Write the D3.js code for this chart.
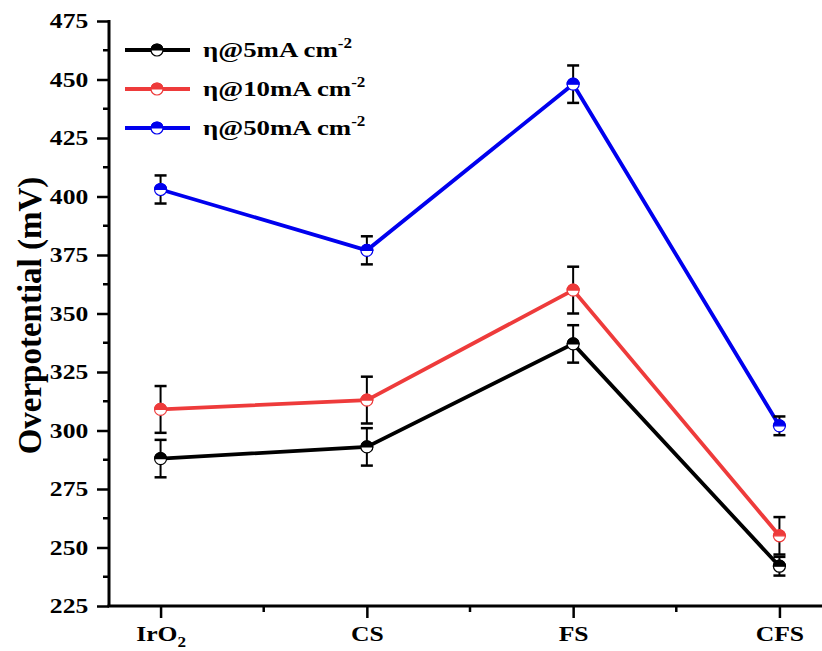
<!doctype html>
<html>
  <head>
    <meta charset="utf-8" />
    <title>Overpotential</title>
    <style>
      body { margin: 0; background: #fff; }
      svg { display: block; }
      text {
        font-family: "Liberation Serif", "DejaVu Serif", "Times New Roman", serif;
        font-weight: bold;
        fill: #000;
      }
    </style>
  </head>
  <body>
    <svg id="chart"></svg>
    <script src="https://d3js.org/d3.v7.min.js"></script>
    <script>
      // data
      const categories = ["IrO2", "CS", "FS", "CFS"];
      const eta5 = [288, 293, 337, 242];
      const eta5Err = [8, 8, 8, 4];
      const eta10 = [309, 313, 360, 255];
      const eta10Err = [10, 10, 10, 8];
      const eta50 = [403, 377, 448, 302];
      const eta50Err = [6, 6, 8, 4];
      const yTicks = [225, 250, 275, 300, 325, 350, 375, 400, 425, 450, 475];

      const series = [
        { name: "5", values: eta5, err: eta5Err, color: "#000000" },
        { name: "10", values: eta10, err: eta10Err, color: "#ee3b3b" },
        { name: "50", values: eta50, err: eta50Err, color: "#0000ee" },
      ];

      const width = 822;
      const height = 651;
      const mLeft = 109, mTop = 21, mBottom = 606;
      const sx = 1.22; // the original figure's text is a bit wide

      const svg = d3.select("#chart").attr("width", width).attr("height", height);

      const x = d3.scalePoint().domain(categories).range([mLeft, 831]).padding(0.25);
      const y = d3.scaleLinear().domain([225, 475]).range([mBottom, mTop]);

      // y axis
      const yAxis = svg.append("g").attr("transform", `translate(${mLeft},0)`);
      yAxis.call(d3.axisLeft(y).tickValues(yTicks).tickSize(12).tickPadding(5))
        .call((g) => g.select(".domain").remove());
      yAxis.selectAll(".tick line").attr("stroke-width", 2.5);
      yAxis.selectAll(".tick text").style("font-size", "21px")
        .attr("transform", `scale(${sx},1)`);
      const yMinor = d3.range(237.5, 475, 25);
      yAxis.selectAll(".minor").data(yMinor).enter().append("line")
        .attr("x1", -6).attr("x2", 0)
        .attr("y1", (d) => y(d)).attr("y2", (d) => y(d))
        .attr("stroke", "#000").attr("stroke-width", 2.5);
      yAxis.append("line").attr("x1", 0).attr("x2", 0)
        .attr("y1", mTop - 1).attr("y2", mBottom + 1)
        .attr("stroke", "#000").attr("stroke-width", 3);

      // x axis
      const xAxis = svg.append("g").attr("transform", `translate(0,${mBottom})`);
      xAxis.call(d3.axisBottom(x).tickSize(12).tickFormat(""))
        .call((g) => g.select(".domain").remove());
      xAxis.selectAll(".tick line").attr("stroke-width", 2.5);
      xAxis.selectAll(".tick").append("text")
        .attr("y", 35)
        .attr("text-anchor", "middle")
        .attr("transform", `scale(${sx},1)`)
        .style("font-size", "21px")
        .each(function (d) {
          const t = d3.select(this);
          if (d === "IrO2") {
            t.append("tspan").text("IrO");
            t.append("tspan").text("2").attr("dy", 6).style("font-size", "14px");
          } else {
            t.text(d);
          }
        });
      const xMinor = d3.pairs(categories).map(([a, b]) => (x(a) + x(b)) / 2);
      xAxis.selectAll(".minor").data(xMinor).enter().append("line")
        .attr("x1", (d) => d).attr("x2", (d) => d)
        .attr("y1", 0).attr("y2", 6)
        .attr("stroke", "#000").attr("stroke-width", 2.5);
      xAxis.append("line").attr("x1", mLeft - 1.5).attr("x2", width)
        .attr("y1", 0).attr("y2", 0)
        .attr("stroke", "#000").attr("stroke-width", 3);

      // y title
      svg.append("text")
        .attr("transform", `translate(41,${(mTop + mBottom) / 2 + 2}) rotate(-90)`)
        .attr("text-anchor", "middle")
        .style("font-size", "33px")
        .text("Overpotential (mV)");

      function marker(g, cx, cy, color) {
        const r = 6;
        g.append("circle").attr("cx", cx).attr("cy", cy).attr("r", r)
          .attr("fill", "#fff").attr("stroke", color).attr("stroke-width", 1.2);
        g.append("path")
          .attr("d", `M${cx - r},${cy} A${r},${r} 0 0 1 ${cx + r},${cy} Z`)
          .attr("fill", color).attr("stroke", color).attr("stroke-width", 1.2);
      }

      const line = d3.line().x((d, i) => x(categories[i])).y((d) => y(d));

      series.forEach((s) => {
        svg.append("path").datum(s.values)
          .attr("d", line)
          .attr("fill", "none")
          .attr("stroke", s.color)
          .attr("stroke-width", 3.8);
      });

      series.forEach((s) => {
        const eg = svg.append("g");
        s.values.forEach((v, i) => {
          const cx = x(categories[i]);
          const y1 = y(v + s.err[i]), y2 = y(v - s.err[i]);
          eg.append("line").attr("x1", cx).attr("x2", cx).attr("y1", y1).attr("y2", y2)
            .attr("stroke", "#000").attr("stroke-width", 2);
          [y1, y2].forEach((yy) => {
            eg.append("line").attr("x1", cx - 6).attr("x2", cx + 6).attr("y1", yy).attr("y2", yy)
              .attr("stroke", "#000").attr("stroke-width", 2.5);
          });
        });
      });

      series.forEach((s) => {
        const mg = svg.append("g");
        s.values.forEach((v, i) => marker(mg, x(categories[i]), y(v), s.color));
      });

      // legend
      const legend = svg.append("g");
      const lx = 203;
      series.forEach((s, i) => {
        const ly = 50 + i * 39;
        legend.append("line").attr("x1", 125).attr("x2", 190).attr("y1", ly).attr("y2", ly)
          .attr("stroke", s.color).attr("stroke-width", 3.8);
        marker(legend, 157, ly, s.color);
        const t = legend.append("text").attr("x", lx).attr("y", ly + 7)
          .attr("transform", `translate(${lx},0) scale(${sx},1) translate(${-lx},0)`)
          .style("font-size", "22px");
        t.append("tspan").text(`η@${s.name}mA cm`);
        t.append("tspan").text("-2").attr("dy", -9).style("font-size", "14px");
      });
    </script>
  </body>
</html>
